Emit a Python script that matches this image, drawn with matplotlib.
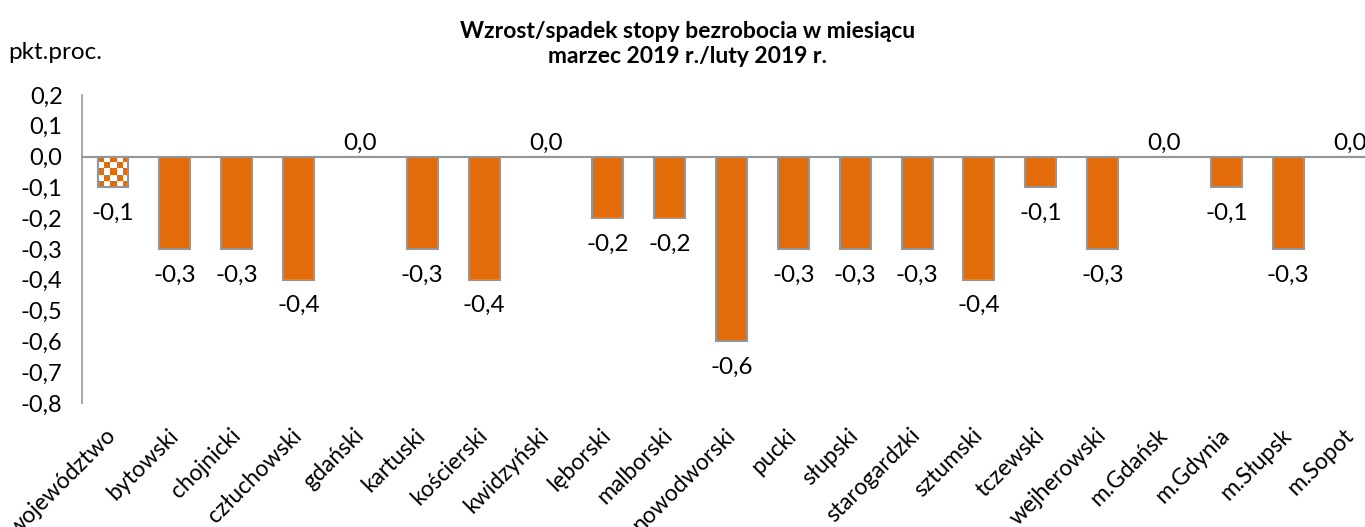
import matplotlib
matplotlib.use("Agg")
import matplotlib.pyplot as plt
import numpy as np

plt.rcParams['font.family'] = ['Lato', 'DejaVu Sans']

categories = ['województwo', 'bytowski', 'chojnicki', 'człuchowski', 'gdański',
              'kartuski', 'kościerski', 'kwidzyński', 'lęborski', 'malborski',
              'nowodworski', 'pucki', 'słupski', 'starogardzki', 'sztumski',
              'tczewski', 'wejherowski', 'm.Gdańsk', 'm.Gdynia', 'm.Słupsk', 'm.Sopot']
values = [-0.1, -0.3, -0.3, -0.4, 0.0,
          -0.3, -0.4, 0.0, -0.2, -0.2,
          -0.6, -0.3, -0.3, -0.3, -0.4,
          -0.1, -0.3, 0.0, -0.1, -0.3, 0.0]
yticks = [0.2, 0.1, 0.0, -0.1, -0.2, -0.3, -0.4, -0.5, -0.6, -0.7, -0.8]

orange = '#E36C0A'
edge = '#969696'

fig = plt.figure(figsize=(13.65, 5.27), dpi=100)
ax = fig.add_axes([0.0601, 0.2353, 0.9516, 0.5844])

x = np.arange(len(categories))
bars = ax.bar(x, values, width=0.5, color=orange, edgecolor=edge, linewidth=1.5, zorder=2)

# first bar (województwo) checkered
b0 = bars[0]
b0.set_facecolor('white')
checker = np.indices((5, 5)).sum(axis=0) % 2
cmap = matplotlib.colors.ListedColormap([orange, 'white'])
x0, y0 = b0.get_x(), b0.get_y()
w, h = b0.get_width(), b0.get_height()
im = ax.imshow(checker, cmap=cmap, extent=[x0, x0 + w, y0 + h, y0],
               interpolation='nearest', aspect='auto', zorder=2.5)
im.set_clip_path(b0)
ax.add_patch(plt.Rectangle((x0, y0), w, h, fill=False, edgecolor=edge, linewidth=1.5, zorder=3))

for xi, v in zip(x, values):
    lab = f'{v:.1f}'.replace('.', ',')
    if v < 0:
        ax.annotate(lab, (xi, v), xytext=(0, -26), textcoords='offset pixels',
                    ha='center', va='center', fontsize=17.5)
    else:
        ax.annotate(lab, (xi, v), xytext=(0, 13), textcoords='offset pixels',
                    ha='center', va='center', fontsize=17.5)

ax.axhline(0, color=edge, linewidth=1.5, zorder=1)
ax.set_xlim(-0.5, len(categories) - 0.5)
ax.set_ylim(-0.8, 0.2)
ax.set_yticks(yticks)
ax.set_yticklabels([f'{t:.1f}'.replace('.', ',') for t in yticks], fontsize=17)
ax.tick_params(axis='y', length=0, pad=14)
ax.set_xticks(x)
ax.set_xticklabels(categories, rotation=45, ha='right', va='center',
                   rotation_mode='anchor', fontsize=16.5)
ax.tick_params(axis='x', length=0, pad=21)

for s in ['top', 'right', 'bottom']:
    ax.spines[s].set_visible(False)
ax.spines['left'].set_color(edge)
ax.spines['left'].set_linewidth(1.2)
ax.patch.set_alpha(0)

fig.text(0.504, 0.917, 'Wzrost/spadek stopy bezrobocia w miesiącu\nmarzec 2019 r./luty 2019 r.',
         ha='center', va='center', fontsize=16.5, fontweight='bold', linespacing=1.25)
fig.text(0.006, 0.90, 'pkt.proc.', ha='left', va='center', fontsize=17.5)

fig.savefig('out.png', dpi=100)
